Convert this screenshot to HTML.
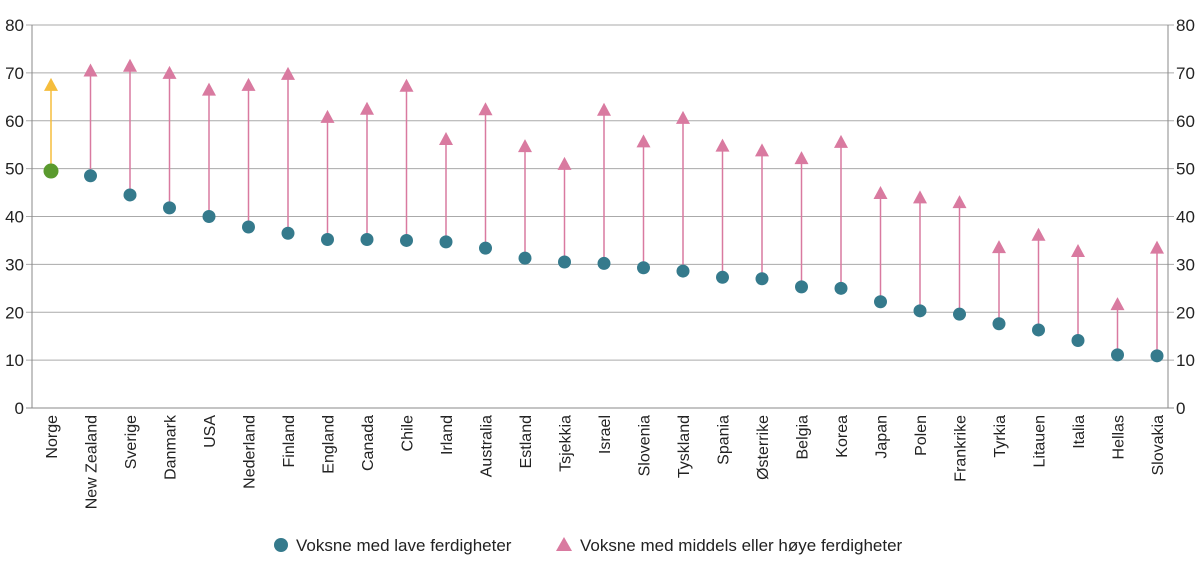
<!DOCTYPE html>
<html><head><meta charset="utf-8"><style>
body{margin:0;background:#fff;font-family:"Liberation Sans",sans-serif}
svg text{font-family:"Liberation Sans",sans-serif;fill:#222}
</style></head><body>
<svg width="1200" height="570" id="c">
<g id="grid"></g><g id="marks"></g><g id="labels"></g>
<g>
<circle cx="281" cy="545" r="7" fill="#357a8c"/>
<text x="296" y="551" font-size="17">Voksne med lave ferdigheter</text>
<polygon points="564,537 572,551 556,551" fill="#d97aa0"/>
<text x="580" y="551" font-size="17">Voksne med middels eller høye ferdigheter</text>
</g>
</svg>
<script>
const categories=["Norge","New Zealand","Sverige","Danmark","USA","Nederland","Finland","England","Canada","Chile","Irland","Australia","Estland","Tsjekkia","Israel","Slovenia","Tyskland","Spania","Østerrike","Belgia","Korea","Japan","Polen","Frankrike","Tyrkia","Litauen","Italia","Hellas","Slovakia"];
const lowValues=[49.5,48.5,44.5,41.8,40,37.8,36.5,35.2,35.2,35,34.7,33.4,31.3,30.5,30.2,29.3,28.6,27.3,27,25.3,25,22.2,20.3,19.6,17.6,16.3,14.1,11.1,10.9];
const highValues=[67.5,70.5,71.5,70,66.5,67.5,69.8,60.8,62.5,67.3,56.2,62.4,54.7,51,62.3,55.7,60.6,54.8,53.8,52.2,55.6,44.9,44,43,33.6,36.2,32.8,21.7,33.5];
const ticks=[0,10,20,30,40,50,60,70,80];
const NS="http://www.w3.org/2000/svg";
const x0=32,x1=1168,y0=408,y1=25;
const y=v=>y0-(v/80)*(y0-y1);
const x=i=>51+i*(1157-51)/(categories.length-1);
function mk(t,a,p){const e=document.createElementNS(NS,t);for(const k in a)e.setAttribute(k,a[k]);p.appendChild(e);return e;}
const grid=document.getElementById('grid'),marks=document.getElementById('marks'),labels=document.getElementById('labels');
ticks.forEach(t=>{
 const l=mk('line',{x1:x0-6,x2:x1+6,y1:y(t),y2:y(t),stroke:t===0?'#888':'#aaa','stroke-width':1},grid);
 
 
 const a=mk('text',{x:24,y:y(t)+6,'text-anchor':'end','font-size':17},grid);a.textContent=t;
 
 
 const b=mk('text',{x:1176,y:y(t)+6,'font-size':17},grid);b.textContent=t;
 
 
});
let ax=mk('line',{x1:x0,x2:x0,y1:y1,y2:y0,stroke:'#888'},grid);


ax=mk('line',{x1:x1,x2:x1,y1:y1,y2:y0,stroke:'#888'},grid);


categories.forEach((c,i)=>{
 const n=i===0,cx=x(i),yl=y(lowValues[i]),yh=y(highValues[i]);
 const col=n?'#f5bd3c':'#d97aa0';
 const ln=mk('line',{x1:cx,x2:cx,y1:yl,y2:yh,stroke:col,'stroke-width':1.5},marks);
 
 
 const tr=mk('polygon',{points:`${cx},${yh-7} ${cx+7},${yh+6} ${cx-7},${yh+6}`,fill:col},marks);
 
 
 const ci=mk('circle',{cx:cx,cy:yl,r:n?7.5:6.5,fill:n?'#5a9a2e':'#357a8c'},marks);
 
 
 const t=mk('text',{x:0,y:0,'text-anchor':'end','font-size':16,transform:`translate(${cx+6},415) rotate(-90)`},labels);
 t.textContent=c;
 
 
});
</script>
</body></html>
